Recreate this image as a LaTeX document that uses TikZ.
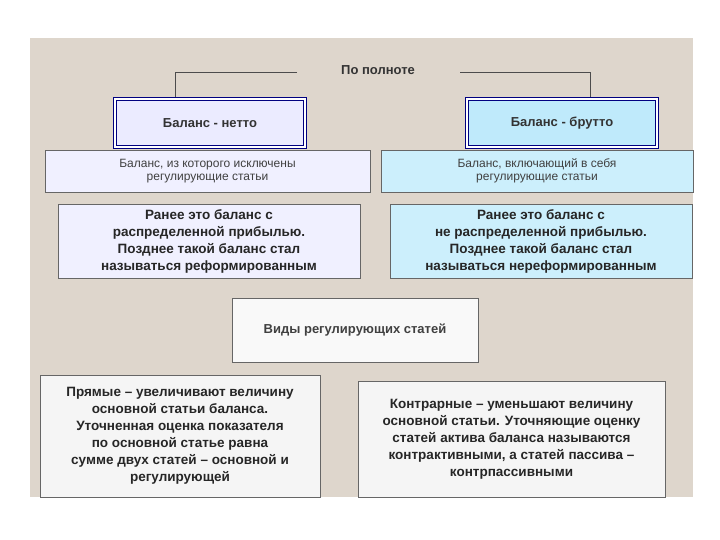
\documentclass[tikz,border=0pt]{standalone}
\usepackage{fontspec}
\setmainfont{Liberation Sans}
\definecolor{panel}{RGB}{222,214,204}
\begin{document}
\begin{tikzpicture}[x=1pt,y=-1pt,
  box/.style={draw=black!60,align=center,font=\fontsize{12}{13}\selectfont,text=black!75,inner sep=2pt},
  head/.style={draw=blue!50!black,double,double distance=1.5pt,line width=1pt,font=\bfseries\fontsize{13}{15}\selectfont,text=black!80},
  big/.style={box,font=\bfseries\fontsize{13.5}{17}\selectfont,text=black!85}]
  \useasboundingbox (0,0) rectangle (720,540);
  \fill[white] (0,0) rectangle (720,540);
  \fill[panel] (30,38) rectangle (693,497);

  \node[font=\bfseries\fontsize{13}{15}\selectfont,text=black!80] (title) at (378,70) {По полноте};
  \coordinate (tl) at (297,72);
  \coordinate (tr) at (460,72);
  \coordinate (nl) at (175,97);
  \coordinate (br) at (590,97);

  % heads
  \node[head,fill=blue!8,minimum width=190,minimum height=48] (netto) at (210,123) {Баланс - нетто};
  \node[head,fill=cyan!25,minimum width=190,minimum height=48] (brutto) at (562,123) {Баланс - брутто};
  \draw[black!70] (tl) -| (nl);
  \draw[black!70] (tr) -| (br);

  % definitions
  \node[box,fill=blue!6,minimum width=325,minimum height=42] (defl) at (207.5,171) {Баланс, из которого исключены\\регулирующие статьи};
  \node[box,fill=cyan!20,minimum width=312,minimum height=42] (defr) at (537,171) {Баланс, включающий в себя\\регулирующие статьи};

  % history
  \node[big,fill=blue!6,minimum width=302,minimum height=74] (histl) at (209,241) {Ранее это баланс с\\распределенной прибылью.\\Позднее такой баланс стал\\называться реформированным};
  \node[big,fill=cyan!20,minimum width=302,minimum height=74] (histr) at (541,241) {Ранее это баланс с\\не распределенной прибылью.\\Позднее такой баланс стал\\называться нереформированным};

  % kinds
  \node[box,fill=gray!5,minimum width=246,minimum height=64,font=\bfseries\fontsize{13}{15}\selectfont] (kinds) at (355,330) {Виды регулирующих статей};

  \node[big,fill=gray!8,minimum width=280,minimum height=122] (direct) at (180,436) {Прямые -- увеличивают величину\\основной статьи баланса.\\Уточненная оценка показателя\\по основной статье равна\\сумме двух статей -- основной и\\регулирующей};
  \node[big,fill=gray!8,minimum width=307,minimum height=116] (contra) at (511.5,439) {Контрарные -- уменьшают величину\\основной статьи. Уточняющие оценку\\статей актива баланса называются\\контрактивными, а статей пассива --\\контрпассивными};
\end{tikzpicture}
\end{document}
